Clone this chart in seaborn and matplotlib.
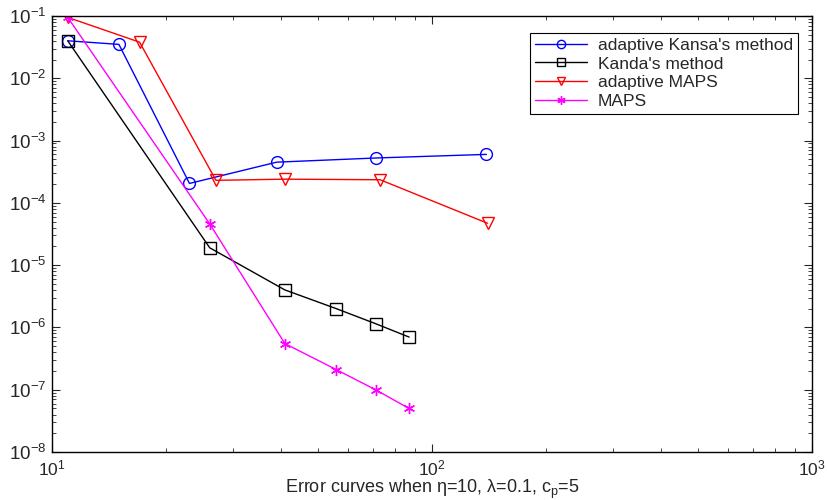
import pandas as pd
import numpy as np
import seaborn as sns
import matplotlib.pyplot as plt
from matplotlib.ticker import NullFormatter, LogFormatterSciNotation

# valores
x_kansa_ad = [11, 15, 23, 39, 71, 139]
y_kansa_ad = [0.04, 0.035, 2.05e-4, 4.5e-4, 5.25e-4, 6.0e-4]

x_kansa = [11, 26, 41, 56, 71, 87]
y_kansa = [0.04, 1.9e-5, 4.0e-6, 2.0e-6, 1.15e-6, 7.0e-7]

x_maps_ad = [11, 17, 27, 41, 73, 140]
y_maps_ad = [0.095, 0.038, 2.3e-4, 2.4e-4, 2.35e-4, 4.7e-5]

x_maps = [11, 26, 41, 56, 71, 87]
y_maps = [0.095, 4.6e-5, 5.5e-7, 2.1e-7, 1.0e-7, 5.0e-8]

labels = ["adaptive Kansa's method", "Kanda's method", "adaptive MAPS", "MAPS"]

sns.set_style("ticks")
plt.rcParams['font.family'] = ['Liberation Sans', 'DejaVu Sans']
plt.rcParams['mathtext.fontset'] = 'custom'
plt.rcParams['mathtext.rm'] = 'Liberation Sans'
plt.rcParams['mathtext.it'] = 'Liberation Sans:italic'

fig = plt.figure(figsize=(8.28, 5.0), dpi=100)
ax = fig.add_axes([0.0628, 0.096, 0.918, 0.872])

series = [
    (x_kansa_ad, y_kansa_ad, '#0000ff', 'o', 8.5),
    (x_kansa, y_kansa, 'black', 's', 8),
    (x_maps_ad, y_maps_ad, '#ff0000', 'v', 9),
    (x_maps, y_maps, '#ff00ff', (6, 2, 0), 8),
]
for (xs, ys, cor, mk, ms), lab in zip(series, labels):
    df = pd.DataFrame({"x": xs, "y": ys})
    sns.lineplot(data=df, x="x", y="y", sort=False, ax=ax, color=cor, lw=1,
                 marker=mk, markersize=ms, markerfacecolor='none',
                 markeredgecolor=cor, markeredgewidth=1, label=lab)

ax.set_xscale('log')
ax.set_yscale('log')
ax.set_xlim(10, 1000)
ax.set_ylim(1e-8, 1e-1)

# ticks so dentro do intervalo visivel
ax.set_xticks([10.0 ** k for k in range(1, 4)])
ax.set_yticks([10.0 ** k for k in range(-8, 0)])
ax.set_xticks([m * 10.0 ** k for k in range(1, 3) for m in range(2, 10)], minor=True)
ax.set_yticks([m * 10.0 ** k for k in range(-8, -1) for m in range(2, 10)], minor=True)
ax.xaxis.set_major_formatter(LogFormatterSciNotation())
ax.yaxis.set_major_formatter(LogFormatterSciNotation())
ax.xaxis.set_minor_formatter(NullFormatter())
ax.yaxis.set_minor_formatter(NullFormatter())
ax.tick_params(which='both', direction='in', top=True, right=True, labelsize=13.5)
ax.tick_params(axis='x', pad=5, labelsize=12.5)
ax.tick_params(axis='y', pad=4)
ax.tick_params(which='major', length=6, width=0.8)
ax.tick_params(which='minor', length=3, width=0.6)
for s in ax.spines.values():
    s.set_linewidth(1)
    s.set_color('black')

ax.set_xlabel('Error curves when η=10, λ=0.1, c$_\\mathrm{p}$=5', fontsize=13, labelpad=-1)
ax.set_ylabel(None)
ax.yaxis.label.set_visible(False)

leg = ax.legend(loc='upper right', fontsize=12.5, frameon=True, fancybox=False,
                edgecolor='black', framealpha=1, handlelength=3.0, borderpad=0.3,
                labelspacing=0.2, handletextpad=0.6, bbox_to_anchor=(0.993, 0.982))
leg.get_frame().set_linewidth(0.8)
for h in leg.legend_handles:
    h.set_markersize(6)

fig.savefig("out.png", dpi=100)
